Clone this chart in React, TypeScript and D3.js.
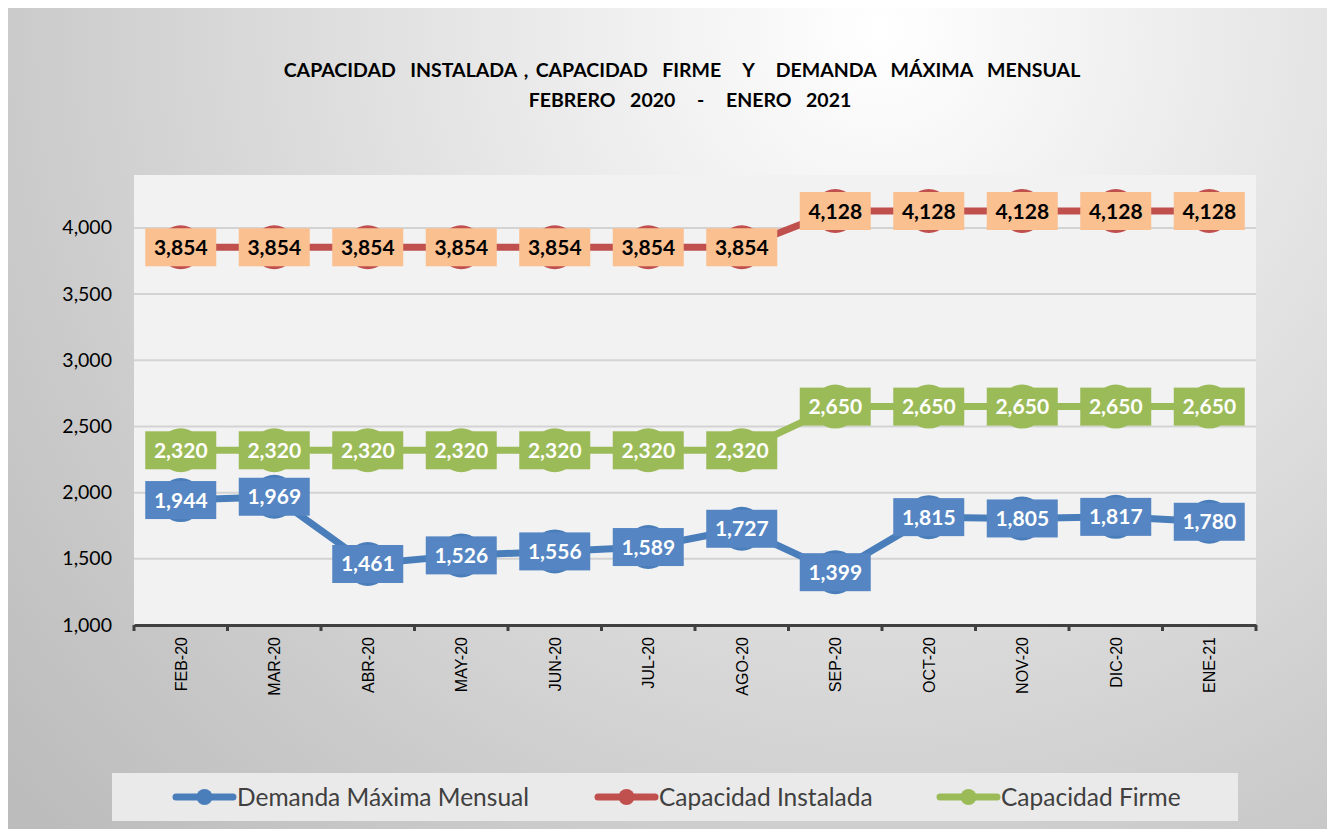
import React, { useEffect, useRef } from "react";
import * as d3 from "d3";

const months = ["FEB-20", "MAR-20", "ABR-20", "MAY-20", "JUN-20", "JUL-20", "AGO-20", "SEP-20", "OCT-20", "NOV-20", "DIC-20", "ENE-21"];
const demanda = [1944, 1969, 1461, 1526, 1556, 1589, 1727, 1399, 1815, 1805, 1817, 1780];
const instalada = [3854, 3854, 3854, 3854, 3854, 3854, 3854, 4128, 4128, 4128, 4128, 4128];
const firme = [2320, 2320, 2320, 2320, 2320, 2320, 2320, 2650, 2650, 2650, 2650, 2650];
const yTicks = [1000, 1500, 2000, 2500, 3000, 3500, 4000];

const series = [
	{ name: "Demanda Máxima Mensual", values: demanda, color: "#4A7EBB", box: "#5586C3", text: "#ffffff" },
	{ name: "Capacidad Instalada", values: instalada, color: "#C0504D", box: "#FAC090", text: "#000000" },
	{ name: "Capacidad Firme", values: firme, color: "#9BBB59", box: "#9BBB59", text: "#ffffff" },
];

const FONT = "Lato, 'Open Sans', sans-serif";

export default function App() {
	const ref = useRef<SVGSVGElement>(null);

	useEffect(() => {
		const svg = d3.select(ref.current);
		svg.selectAll("*").remove();

		const W = 1335;
		const H = 837;
		const plot = { left: 134, right: 1256, top: 175, bottom: 625 };

		// background
		const defs = svg.append("defs");
		const grad = defs
			.append("radialGradient")
			.attr("id", "bg")
			.attr("gradientUnits", "userSpaceOnUse")
			.attr("cx", 880)
			.attr("cy", 30)
			.attr("r", 1150);
		grad.append("stop").attr("offset", "0").attr("stop-color", "#ffffff");
		grad.append("stop").attr("offset", "0.75").attr("stop-color", "#cbcbcb");
		grad.append("stop").attr("offset", "1").attr("stop-color", "#bcbcbc");

		svg.append("rect")
			.attr("x", 0)
			.attr("y", 0)
			.attr("width", W)
			.attr("height", H)
			.attr("fill", "#ffffff");
		svg.append("rect")
			.attr("x", 6.5)
			.attr("y", 6.5)
			.attr("width", W - 9)
			.attr("height", H - 9)
			.attr("fill", "url(#bg)")
			.attr("stroke", "#d0d0d0");

		// title
		const title = svg
			.append("text")
			.attr("text-anchor", "middle")
			.attr("font-family", FONT)
			.attr("font-weight", "bold")
			.attr("font-size", 19.5)
			.attr("word-spacing", 2.5)
			.attr("fill", "#000")
			.style("white-space", "pre");
		title.append("tspan")
			.attr("x", 682)
			.attr("y", 77)
			.text("CAPACIDAD  INSTALADA , CAPACIDAD  FIRME   Y   DEMANDA  MÁXIMA  MENSUAL");
		title.append("tspan")
			.attr("x", 690)
			.attr("y", 107)
			.text("FEBRERO  2020   -   ENERO  2021");

		const x = d3
			.scaleBand()
			.domain(months)
			.range([plot.left, plot.right]);

		const y = d3
			.scaleLinear()
			.domain([1000, 4400])
			.range([plot.bottom, plot.top]);

		svg.append("rect")
			.attr("x", plot.left)
			.attr("y", plot.top)
			.attr("width", plot.right - plot.left)
			.attr("height", plot.bottom - plot.top)
			.attr("fill", "#f2f2f2");

		// grid
		svg.append("g")
			.selectAll("line")
			.data(yTicks.slice(1))
			.join("line")
			.attr("x1", plot.left)
			.attr("x2", plot.right)
			.attr("y1", (d) => y(d))
			.attr("y2", (d) => y(d))
			.attr("stroke", "#d3d3d3")
			.attr("stroke-width", 2);

		// y labels
		svg.append("g")
			.selectAll("text")
			.data(yTicks)
			.join("text")
			.attr("x", 112)
			.attr("y", (d) => y(d) + 6.5)
			.attr("text-anchor", "end")
			.attr("font-family", FONT)
			.attr("font-size", 19.5)
			.attr("fill", "#000")
			.text((d) => d3.format(",")(d));

		// x axis
		const xAxis = svg
			.append("g")
			.attr("transform", `translate(0,${plot.bottom})`)
			.call(
				d3
					.axisBottom(x)
					.tickSize(0)
					.tickFormat(() => "")
			);
		xAxis.select(".domain").attr("stroke", "#404040").attr("stroke-width", 3);
		const bounds = months.map((m) => x(m) as number).concat([plot.right]);
		xAxis.append("g")
			.selectAll("line")
			.data(bounds)
			.join("line")
			.attr("x1", (d) => d)
			.attr("x2", (d) => d)
			.attr("y1", 0)
			.attr("y2", 6)
			.attr("stroke", "#404040")
			.attr("stroke-width", 3);

		svg.append("g")
			.selectAll("text")
			.data(months)
			.join("text")
			.attr("transform", (d) => `translate(${(x(d) as number) + x.bandwidth() / 2 + 6},637) rotate(-90)`)
			.attr("text-anchor", "end")
			.attr("font-family", "'Liberation Sans', Arial, sans-serif")
			.attr("font-size", 16)
			.attr("fill", "#000")
			.text((d) => d);

		const cx = (i) => (x(months[i]) as number) + x.bandwidth() / 2;

		const line = d3
			.line<number>()
			.x((d, i) => cx(i))
			.y((d) => y(d));

		// lines
		svg.append("g")
			.selectAll("path")
			.data(series)
			.join("path")
			.attr("d", (s) => line(s.values))
			.attr("fill", "none")
			.attr("stroke", (s) => s.color)
			.attr("stroke-width", 7)
			.attr("stroke-linejoin", "round");

		// markers
		series.forEach((s) => {
			svg.append("g")
				.selectAll("circle")
				.data(s.values)
				.join("circle")
				.attr("cx", (d, i) => cx(i))
				.attr("cy", (d) => y(d))
				.attr("r", 22)
				.attr("fill", s.color);
		});

		// labels
		series.forEach((s) => {
			const g = svg
				.append("g")
				.selectAll("g")
				.data(s.values)
				.join("g")
				.attr("transform", (d, i) => `translate(${cx(i)},${y(d)})`);
			g.append("rect")
				.attr("x", -35.5)
				.attr("y", -19)
				.attr("width", 71)
				.attr("height", 38)
				.attr("fill", s.box);
			g.append("text")
				.attr("y", 7.5)
				.attr("text-anchor", "middle")
				.attr("font-family", FONT)
				.attr("font-weight", "bold")
				.attr("font-size", 21)
				.attr("fill", s.text)
				.text((d) => d3.format(",")(d));
		});

		// legend
		svg.append("rect")
			.attr("x", 112)
			.attr("y", 773)
			.attr("width", 1126)
			.attr("height", 48)
			.attr("fill", "#eaeaea");

		const legendX = [176, 598, 940];
		const items = svg
			.append("g")
			.selectAll("g")
			.data(series)
			.join("g")
			.attr("transform", (s, i) => `translate(${legendX[i]},797)`);
		items.append("line")
			.attr("x1", 0)
			.attr("x2", 57)
			.attr("stroke", (s) => s.color)
			.attr("stroke-width", 7)
			.attr("stroke-linecap", "round");
		items.append("circle")
			.attr("cx", 28.5)
			.attr("r", 8)
			.attr("fill", (s) => s.color);
		items.append("text")
			.attr("x", 61)
			.attr("y", 8.5)
			.attr("font-family", FONT)
			.attr("font-size", 24.5)
			.attr("fill", "#404040")
			.text((s) => s.name);
	}, []);

	return <svg ref={ref} width={1335} height={837} style={{ display: "block", margin: "-8px" }} />;
}
